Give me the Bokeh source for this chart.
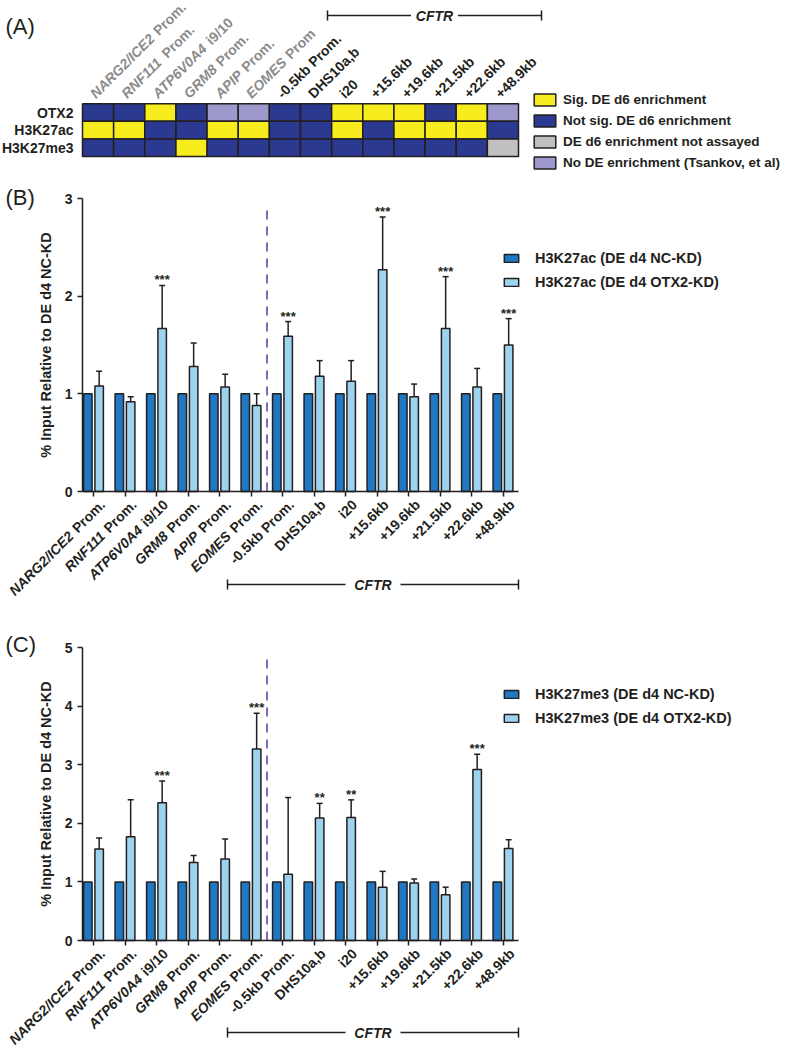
import math
from bokeh.plotting import figure
from bokeh.models import (ColumnDataSource, Range1d, FixedTicker, LabelSet, Label,
                          Legend, LegendItem, Whisker, TeeHead, Arrow)
from bokeh.layouts import column
from bokeh.transform import dodge
from bokeh.embed import file_html
from bokeh.resources import INLINE
from bokeh.core.properties import value

# ---------------- data ----------------
sites = ["NARG2/ICE2 Prom.", "RNF111 Prom.", "ATP6V0A4 i9/10", "GRM8 Prom.", "APIP Prom.",
         "EOMES Prom.", "-0.5kb Prom.", "DHS10a,b", "i20", "+15.6kb", "+19.6kb",
         "+21.5kb", "+22.6kb", "+48.9kb"]
header_sites = ["NARG2/ICE2 Prom.", "RNF111 Prom.", "ATP6V0A4 i9/10", "GRM8 Prom.", "APIP Prom.",
                "EOMES Prom", "-0.5kb Prom.", "DHS10a,b", "i20", "+15.6kb", "+19.6kb",
                "+21.5kb", "+22.6kb", "+48.9kb"]
gene_prefix = ["NARG2/ICE2", "RNF111", "ATP6V0A4", "GRM8", "APIP", "EOMES",
               "", "", "", "", "", "", "", ""]

marks = ["OTX2", "H3K27ac", "H3K27me3"]
otx2_status = ["not", "not", "sig", "not", "tsankov", "tsankov", "not", "not",
               "sig", "sig", "sig", "not", "sig", "tsankov"]
h3k27ac_status = ["sig", "sig", "not", "not", "sig", "sig", "not", "not",
                  "sig", "not", "sig", "sig", "sig", "not"]
h3k27me3_status = ["not", "not", "not", "sig", "not", "not", "not", "not",
                   "not", "not", "not", "not", "not", "na"]
status_keys = ["sig", "not", "na", "tsankov"]
status_names = ["Sig. DE d6 enrichment", "Not sig. DE d6 enrichment",
                "DE d6 enrichment not assayed", "No DE enrichment (Tsankov, et al)"]

ac_nc = [1.0, 1.0, 1.0, 1.0, 1.0, 1.0, 1.0, 1.0, 1.0, 1.0, 1.0, 1.0, 1.0, 1.0]
ac_kd = [1.08, 0.92, 1.67, 1.28, 1.07, 0.88, 1.59, 1.18, 1.13, 2.27, 0.97, 1.67, 1.07, 1.50]
ac_kd_sem = [0.15, 0.05, 0.44, 0.24, 0.13, 0.12, 0.15, 0.16, 0.21, 0.54, 0.13, 0.53, 0.19, 0.27]
ac_sig = ["", "", "***", "", "", "", "***", "", "", "***", "", "***", "", "***"]

me3_nc = [1.0, 1.0, 1.0, 1.0, 1.0, 1.0, 1.0, 1.0, 1.0, 1.0, 1.0, 1.0, 1.0, 1.0]
me3_kd = [1.56, 1.77, 2.35, 1.33, 1.39, 3.27, 1.13, 2.09, 2.10, 0.91, 0.98, 0.78, 2.92, 1.57]
me3_kd_sem = [0.19, 0.63, 0.37, 0.12, 0.34, 0.61, 1.31, 0.25, 0.30, 0.27, 0.07, 0.13, 0.26, 0.15]
me3_sig = ["", "", "***", "", "", "***", "", "**", "**", "", "", "", "***", ""]

ac_labels = ["H3K27ac (DE d4 NC-KD)", "H3K27ac (DE d4 OTX2-KD)"]
me3_labels = ["H3K27me3 (DE d4 NC-KD)", "H3K27me3 (DE d4 OTX2-KD)"]
y_title = "% Input Relative to DE d4 NC-KD"
divider_after = 5          # dashed divider sits between EOMES and the CFTR sites
ac_ymax, me3_ymax = 3, 5
ac_divider_top = 2.9
me3_divider_top = 4.83

# ---------------- style / geometry ----------------
FONT = "Liberation Sans"
INK = "#231f20"
GREY_TXT = "#8a8a8a"
DARK = "#1f78c1"
LIGHT = "#9dd3ef"
DIVIDER = "#6046a8"
STATUS_COLORS = {"sig": "#f7ec1d", "not": "#2b3990", "na": "#c0c0c0", "tsankov": "#9d99cc"}
FIG_W = 787
ANGLE = math.pi / 4
C45 = math.cos(ANGLE)
NC_OFF, KD_OFF, BAR_W = -0.19, 0.17, 0.27

GLYPH_W = {" ": 278, ".": 278, "/": 278, "-": 333, ",": 278, "+": 584,
           "A": 722, "C": 722, "E": 667, "F": 611, "G": 778, "I": 278, "M": 833,
           "N": 722, "O": 778, "P": 667, "R": 722, "S": 667, "T": 611, "V": 667,
           "i": 278, "m": 889, "o": 611, "r": 389}
for d in "0123456789":
    GLYPH_W[d] = 556


def text_width(s, fs):
    return sum(GLYPH_W.get(ch, 556) for ch in s) / 1000.0 * fs


class Geo:
    """maps page pixels of this panel to data units"""
    def __init__(self, x0px, sx, y0px, sy, top_px, bottom_px):
        self.x0px, self.sx, self.y0px, self.sy = x0px, sx, y0px, sy
        self.top_px, self.bottom_px = top_px, bottom_px
        self.xr = (self.fx(0), self.fx(FIG_W))
        self.yr = (self.fy(bottom_px), self.fy(top_px))

    def fx(self, px):
        return (px - self.x0px) / self.sx

    def fy(self, py):
        return (self.y0px - py) / self.sy

    def dx(self, px):
        return px / self.sx


def make_fig(geo, axes=True):
    kw = dict(width=FIG_W, height=int(round(geo.bottom_px - geo.top_px)),
              x_range=Range1d(*geo.xr), y_range=Range1d(*geo.yr),
              output_backend="svg", toolbar_location=None, min_border=0,
              min_border_left=0, min_border_right=0, min_border_top=0, min_border_bottom=0)
    if not axes:
        kw.update(x_axis_location=None, y_axis_location=None)
    p = figure(**kw)
    p.outline_line_color = None
    p.grid.visible = False
    p.background_fill_color = "white"
    p.border_fill_color = "white"
    return p


def cftr_bracket(p, x0, x1, y, gap_half, fs="14px"):
    xm = (x0 + x1) / 2
    p.add_layout(Arrow(start=TeeHead(size=10, line_color=INK, line_width=1.5), end=None,
                       x_start=x0, y_start=y, x_end=xm - gap_half, y_end=y,
                       line_color=INK, line_width=1.5))
    p.add_layout(Arrow(start=None, end=TeeHead(size=10, line_color=INK, line_width=1.5),
                       x_start=xm + gap_half, y_start=y, x_end=x1, y_end=y,
                       line_color=INK, line_width=1.5))
    p.add_layout(Label(x=xm, y=y, text="CFTR", text_align="center", text_baseline="middle",
                       text_font=FONT, text_font_style="bold italic", text_font_size=fs,
                       text_color=INK))


def panel_tag(p, x, y, tag):
    p.add_layout(Label(x=x, y=y, text=tag, text_align="left", text_baseline="middle",
                       text_font=FONT, text_font_size="22px", text_color=INK))


def add_labelset(p, data, color, style, fs, align, baseline):
    src = ColumnDataSource(data)
    p.add_layout(LabelSet(source=src, x="x", y="y", text="text", x_offset="xo", y_offset="yo",
                          angle=ANGLE, text_align=align, text_baseline=baseline,
                          text_color=color, text_font=value(FONT), text_font_style=style,
                          text_font_size=fs))


def new_cols():
    return dict(x=[], y=[], text=[], xo=[], yo=[])


def push(d, x, y, t, xo, yo):
    d["x"].append(x); d["y"].append(y); d["text"].append(t); d["xo"].append(xo); d["yo"].append(yo)


n = len(sites)

# ---------------- panel A ----------------
ga = Geo(x0px=82, sx=436 / n, y0px=156, sy=52.8 / len(marks), top_px=0, bottom_px=170)
pa = make_fig(ga, axes=False)

cells = dict(x=[], y=[], status=[], color=[])
for r, row in enumerate([otx2_status, h3k27ac_status, h3k27me3_status]):
    for c, s in enumerate(row):
        cells["x"].append(c + 0.5)
        cells["y"].append(len(marks) - r - 0.5)
        cells["status"].append(s)
        cells["color"].append(STATUS_COLORS[s])
hm = pa.rect(x="x", y="y", width=1, height=1, source=ColumnDataSource(cells),
             fill_color="color", line_color=INK, line_width=1.5)

pa.add_layout(LabelSet(source=ColumnDataSource(dict(x=[0] * len(marks),
                                                    y=[len(marks) - r - 0.5 for r in range(len(marks))],
                                                    text=marks)),
                       x="x", y="y", text="text", x_offset=-9, text_align="right",
                       text_baseline="middle", text_color=INK, text_font=value(FONT),
                       text_font_style="bold", text_font_size="14px"))

FS_HDR = 14
hg, hr, hp = new_cols(), new_cols(), new_cols()
for i, (lab, gene) in enumerate(zip(header_sites, gene_prefix)):
    if gene:
        tail = lab[len(gene):]
        w = text_width(gene + " ", FS_HDR) + 1.0
        push(hg, i + 0.5, len(marks), gene, -2, 4.5)
        push(hr, i + 0.5, len(marks), tail.strip(), -2 + w * C45, 4.5 + w * C45)
    else:
        push(hp, i + 0.5, len(marks), lab, -2, 4.5)
add_labelset(pa, hg, GREY_TXT, "bold italic", f"{FS_HDR}px", "left", "alphabetic")
add_labelset(pa, hr, GREY_TXT, "bold", f"{FS_HDR}px", "left", "alphabetic")
add_labelset(pa, hp, INK, "bold", f"{FS_HDR}px", "left", "alphabetic")

flat_status = cells["status"]
leg_a = Legend(items=[LegendItem(label=nm, renderers=[hm], index=flat_status.index(k))
                      for k, nm in zip(status_keys, status_names)],
               location=(531, 0), glyph_width=27, glyph_height=15, label_height=16,
               spacing=5, padding=0, margin=0, label_standoff=5,
               label_text_font=FONT, label_text_font_style="bold", label_text_font_size="13.5px",
               label_text_color=INK, label_text_baseline="middle",
               border_line_color=None, background_fill_alpha=0)
pa.add_layout(leg_a)

cftr_bracket(pa, ga.fx(327), ga.fx(541), ga.fy(15), ga.dx(23.5))
panel_tag(pa, ga.fx(5), ga.fy(26), "(A)")


# ---------------- panels B / C ----------------
def bar_panel(geo, ymax, nc, kd, sem, sig, labels, div_top, legend_y, bracket_py, tag_py, tag):
    p = make_fig(geo)
    src = ColumnDataSource(dict(idx=list(range(n)), nc=nc, kd=kd,
                                upper=[m + s for m, s in zip(kd, sem)], sig=sig,
                                x_kd=[i + KD_OFF for i in range(n)]))
    r_nc = p.vbar(x=dodge("idx", NC_OFF, range=p.x_range), top="nc", width=BAR_W, source=src,
                  fill_color=DARK, line_color=INK, line_width=1.5)
    r_kd = p.vbar(x=dodge("idx", KD_OFF, range=p.x_range), top="kd", width=BAR_W, source=src,
                  fill_color=LIGHT, line_color=INK, line_width=1.5)
    p.add_layout(Whisker(source=src, base="x_kd", lower="kd", upper="upper", dimension="height",
                         lower_head=None,
                         upper_head=TeeHead(size=6, line_color=INK, line_width=1.5),
                         line_color=INK, line_width=1.5, level="overlay"))
    p.add_layout(LabelSet(source=src, x="x_kd", y="upper", text="sig", y_offset=1,
                          text_align="center", text_baseline="alphabetic", text_color=INK,
                          text_font=value(FONT), text_font_style="bold", text_font_size="13px"))
    p.segment(x0=[divider_after + 0.5], y0=[0], x1=[divider_after + 0.5], y1=[div_top],
              line_color=DIVIDER, line_width=1.6, line_dash="9 7")

    x_left, x_right = geo.fx(82), geo.fx(518)
    p.yaxis.fixed_location = x_left
    p.yaxis.bounds = (0, ymax)
    p.xaxis.fixed_location = 0
    p.xaxis.bounds = (x_left, x_right)
    p.yaxis.ticker = FixedTicker(ticks=list(range(int(ymax) + 1)))
    p.xaxis.ticker = FixedTicker(ticks=list(range(n)))
    p.xaxis.major_label_overrides = {i: "" for i in range(n)}
    for ax in (p.xaxis, p.yaxis):
        ax.axis_line_color = INK
        ax.axis_line_width = 1.5
        ax.major_tick_line_color = INK
        ax.major_tick_line_width = 1.5
        ax.major_tick_in = 0
        ax.major_tick_out = 5
        ax.minor_tick_line_color = None
        ax.major_label_text_font = FONT
        ax.major_label_text_font_style = "bold"
        ax.major_label_text_font_size = "14px"
        ax.major_label_text_color = INK
    p.yaxis.major_label_standoff = 5
    p.yaxis.axis_label = y_title
    p.yaxis.axis_label_text_font = FONT
    p.yaxis.axis_label_text_font_style = "bold"
    p.yaxis.axis_label_text_font_size = "14.5px"
    p.yaxis.axis_label_text_color = INK
    p.yaxis.axis_label_standoff = 8

    FS_X = 14
    g, rs, pl = new_cols(), new_cols(), new_cols()
    for i, (lab, gene) in enumerate(zip(sites, gene_prefix)):
        if gene:
            tail = lab[len(gene):]
            wr = text_width(tail, FS_X) + 1.0
            push(g, i, 0, gene, 3 - wr * C45, -5 - wr * C45)
            push(rs, i, 0, tail.strip(), 3, -5)
        else:
            push(pl, i, 0, lab, 3, -5)
    add_labelset(p, g, INK, "bold italic", f"{FS_X}px", "right", "top")
    add_labelset(p, rs, INK, "bold", f"{FS_X}px", "right", "top")
    add_labelset(p, pl, INK, "bold", f"{FS_X}px", "right", "top")

    leg = Legend(items=[LegendItem(label=labels[0], renderers=[r_nc]),
                        LegendItem(label=labels[1], renderers=[r_kd])],
                 location=(502, legend_y), glyph_width=18, glyph_height=10, label_height=17,
                 spacing=7, padding=0, margin=0, label_standoff=15,
                 label_text_font=FONT, label_text_font_style="bold",
                 label_text_font_size="14.5px", label_text_color=INK,
                 label_text_baseline="middle", border_line_color=None, background_fill_alpha=0)
    p.add_layout(leg)

    cftr_bracket(p, geo.fx(227), geo.fx(518), geo.fy(bracket_py), geo.dx(27.5))
    panel_tag(p, geo.fx(5), geo.fy(tag_py), tag)
    return p


gb = Geo(x0px=93.3, sx=31.5, y0px=491, sy=293 / ac_ymax, top_px=170, bottom_px=600)
pb = bar_panel(gb, ac_ymax, ac_nc, ac_kd, ac_kd_sem, ac_sig, ac_labels, ac_divider_top,
               600 - 290.5, 584, 197, "(B)")
gc = Geo(x0px=93.3, sx=31.5, y0px=940, sy=293 / me3_ymax, top_px=600, bottom_px=1048)
pc = bar_panel(gc, me3_ymax, me3_nc, me3_kd, me3_kd_sem, me3_sig, me3_labels, me3_divider_top,
               1048 - 726.5, 1032, 644, "(C)")

layout = column(pa, pb, pc, spacing=0)
open("out.html", "w").write(file_html(layout, INLINE))
